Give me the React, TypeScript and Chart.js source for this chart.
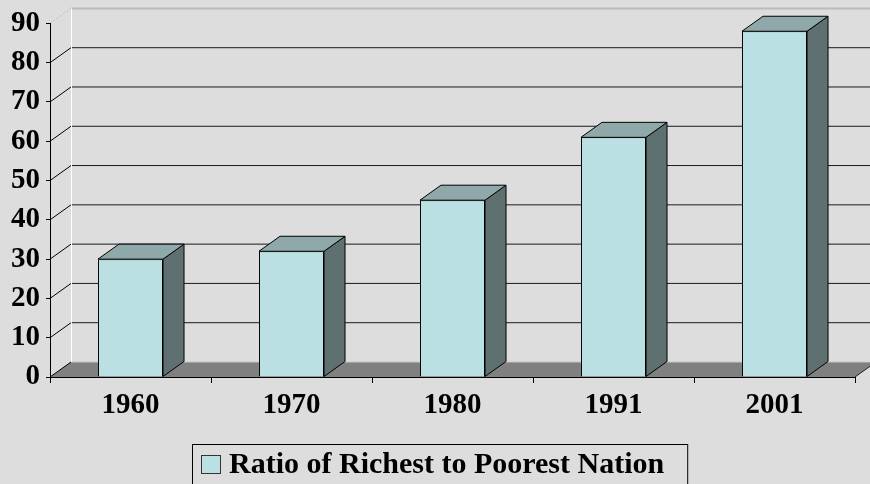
import React, { useEffect, useRef } from "react";
import { Chart, registerables } from "chart.js";

Chart.register(...registerables);

const categories: string[] = ["1960", "1970", "1980", "1991", "2001"];
const ratioValues: number[] = [30, 32, 45, 61, 88];
const seriesLabel = "Ratio of Richest to Poorest Nation";
const yTicks: number[] = [0, 10, 20, 30, 40, 50, 60, 70, 80, 90];

const BG = "#DDDDDD";
const FRONT = "#BBE0E3";
const TOP = "#8FA9AA";
const SIDE = "#5F7071";
const FLOOR = "#808080";
const DX = 21;
const DY = 15;
const FONT = "'Liberation Serif', 'Times New Roman', serif";

const threeD = {
  id: "threeD",
  beforeDraw(chart: any) {
    const { ctx, chartArea } = chart;
    const { left, right, top, bottom } = chartArea;
    const y = chart.scales.y;
    ctx.save();
    ctx.fillStyle = BG;
    ctx.fillRect(0, 0, chart.width, chart.height);
    // floor
    ctx.fillStyle = FLOOR;
    ctx.beginPath();
    ctx.moveTo(left, bottom);
    ctx.lineTo(left + DX, bottom - DY);
    ctx.lineTo(right + DX, bottom - DY);
    ctx.lineTo(right, bottom);
    ctx.closePath();
    ctx.fill();
    // back wall gridlines and side-wall diagonals
    ctx.lineWidth = 1;
    yTicks.forEach((v) => {
      const py = y.getPixelForValue(v);
      if (v === 0) {
        ctx.strokeStyle = "#C8C8C8";
        ctx.beginPath();
        ctx.moveTo(left + DX, py - DY);
        ctx.lineTo(right + DX, py - DY);
        ctx.stroke();
        ctx.strokeStyle = "#000";
        ctx.beginPath();
        ctx.moveTo(left, py);
        ctx.lineTo(left + DX, py - DY);
        ctx.stroke();
        return;
      }
      const isTop = v === yTicks[yTicks.length - 1];
      ctx.strokeStyle = isTop ? "#BBBBBB" : "#1A1A1A";
      ctx.lineWidth = isTop ? 2 : 1;
      ctx.beginPath();
      ctx.moveTo(left + DX, py - DY);
      ctx.lineTo(right + DX + 10, py - DY);
      ctx.stroke();
      ctx.lineWidth = 1;
      if (isTop) ctx.setLineDash([2, 2]);
      ctx.strokeStyle = isTop ? "#BBBBBB" : "#000";
      ctx.beginPath();
      ctx.moveTo(left, py);
      ctx.lineTo(left + DX, py - DY);
      ctx.stroke();
      ctx.setLineDash([]);
    });
    // left wall edge (white)
    ctx.strokeStyle = "#FFFFFF";
    ctx.lineWidth = 1;
    ctx.beginPath();
    ctx.moveTo(left + DX + 0.5, top - DY);
    ctx.lineTo(left + DX + 0.5, bottom - DY);
    ctx.stroke();
    // floor right edge
    ctx.strokeStyle = "#222";
    ctx.beginPath();
    ctx.moveTo(right, bottom);
    ctx.lineTo(right + DX, bottom - DY);
    ctx.stroke();
    ctx.restore();
  },
  afterDatasetsDraw(chart: any) {
    const { ctx } = chart;
    const meta = chart.getDatasetMeta(0);
    ctx.save();
    ctx.lineWidth = 1;
    ctx.strokeStyle = "#000";
    ctx.lineJoin = "round";
    meta.data.forEach((bar: any) => {
      const p = bar.getProps(["x", "y", "base", "width"], true);
      const x0 = p.x - p.width / 2;
      const x1 = p.x + p.width / 2;
      const yt = p.y;
      const yb = p.base;
      // side
      ctx.fillStyle = SIDE;
      ctx.beginPath();
      ctx.moveTo(x1, yt);
      ctx.lineTo(x1 + DX, yt - DY);
      ctx.lineTo(x1 + DX, yb - DY);
      ctx.lineTo(x1, yb);
      ctx.closePath();
      ctx.fill();
      ctx.stroke();
      // top
      ctx.fillStyle = TOP;
      ctx.beginPath();
      ctx.moveTo(x0, yt);
      ctx.lineTo(x0 + DX, yt - DY);
      ctx.lineTo(x1 + DX, yt - DY);
      ctx.lineTo(x1, yt);
      ctx.closePath();
      ctx.fill();
      ctx.stroke();
    });
    ctx.restore();
  },
  afterDraw(chart: any) {
    const { ctx } = chart;
    const label = chart.data.datasets[0].label;
    ctx.save();
    ctx.font = `bold 30px ${FONT}`;
    const tw = ctx.measureText(label).width;
    const boxLeft = 192;
    const boxTop = 444;
    const boxW = 8 + 20 + 8 + tw + 24;
    ctx.strokeStyle = "#000";
    ctx.lineWidth = 1;
    ctx.strokeRect(boxLeft + 0.5, boxTop + 0.5, boxW, 60);
    ctx.fillStyle = FRONT;
    ctx.fillRect(201, 455, 19, 18);
    ctx.strokeStyle = "#333";
    ctx.strokeRect(201.5, 455.5, 19, 18);
    ctx.fillStyle = "#000";
    ctx.textBaseline = "alphabetic";
    ctx.textAlign = "left";
    ctx.fillText(label, 229, 472.5);
    ctx.restore();
  },
};

export default function App() {
  const canvasRef = useRef<HTMLCanvasElement | null>(null);

  useEffect(() => {
    if (!canvasRef.current) return;
    const chart = new Chart(canvasRef.current, {
      type: "bar",
      data: {
        labels: categories,
        datasets: [
          {
            label: seriesLabel,
            data: ratioValues,
            backgroundColor: FRONT,
            borderColor: "#000",
            borderWidth: 1,
            categoryPercentage: 1,
            barPercentage: 0.404,
          },
        ],
      },
      options: {
        responsive: true,
        maintainAspectRatio: false,
        animation: false,
        devicePixelRatio: 1,
        layout: { padding: { top: 20, right: 15, left: 0, bottom: 0 } },
        plugins: {
          legend: { display: false },
          tooltip: { enabled: false },
        },
        scales: {
          x: {
            afterFit: (s: any) => {
              s.height = 107;
            },
            grid: {
              offset: true,
              drawOnChartArea: false,
              drawTicks: true,
              tickLength: 6,
              color: "#000",
            },
            border: { display: true, color: "#000", width: 1 },
            ticks: {
              color: "#000",
              padding: 5,
              font: { family: FONT, size: 29, weight: "bold" },
              maxRotation: 0,
            },
          },
          y: {
            min: 0,
            max: 90,
            afterFit: (s: any) => {
              s.width = 50;
            },
            afterBuildTicks: (s: any) => {
              s.ticks = yTicks.map((v) => ({ value: v }));
            },
            grid: {
              drawOnChartArea: false,
              drawTicks: true,
              tickLength: 4,
              color: "#000",
            },
            border: { display: true, color: "#000", width: 1 },
            ticks: {
              color: "#000",
              padding: 6,
              font: { family: FONT, size: 29, weight: "bold" },
            },
          },
        },
      },
      plugins: [threeD],
    });
    return () => chart.destroy();
  }, []);

  return (
    <div style={{ position: "fixed", left: 0, top: 0, width: 870, height: 484, background: BG }}>
      <canvas ref={canvasRef} />
    </div>
  );
}
